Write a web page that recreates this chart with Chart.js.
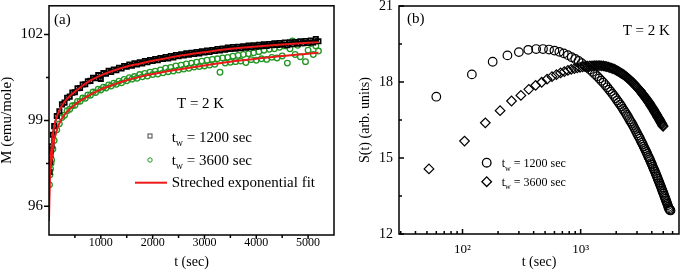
<!DOCTYPE html>
<html>
<head>
<meta charset="utf-8">
<script src="https://cdn.jsdelivr.net/npm/chart.js@4.4.1/dist/chart.umd.min.js"></script>
<style>
  body { margin: 0; background: #fff; }
  #wrap { position: relative; width: 685px; height: 276px; }
  canvas { position: absolute; top: 0; }
  #chartA { left: 0; }
  #chartB { left: 340px; }
</style>
</head>
<body>
<div id="wrap">
  <canvas id="chartA" width="340" height="276"></canvas>
  <canvas id="chartB" width="345" height="276"></canvas>
</div>
<script>
// ---- panel (a): M vs t ----
var timeA = [10, 20, 30, 40, 50, 75, 100,
  150, 200, 250, 300, 350, 400, 450, 500, 550, 600,
  650, 700, 750, 800, 850, 900, 950, 1000, 1050, 1100,
  1150, 1200, 1250, 1300, 1350, 1400, 1450, 1500, 1550, 1600,
  1650, 1700, 1750, 1800, 1850, 1900, 1950, 2000, 2050, 2100,
  2150, 2200, 2250, 2300, 2350, 2400, 2450, 2500, 2550, 2600,
  2650, 2700, 2750, 2800, 2850, 2900, 2950, 3000, 3050, 3100,
  3150, 3200, 3250, 3300, 3350, 3400, 3450, 3500, 3550, 3600,
  3650, 3700, 3750, 3800, 3850, 3900, 3950, 4000, 4050, 4100,
  4150, 4200, 4250, 4300, 4350, 4400, 4450, 4500, 4550, 4600,
  4650, 4700, 4750, 4800, 4850, 4900, 4950, 5000, 5050, 5100,
  5150, 5200];

var m1200 = [97.2, 97.55, 97.8, 97.95, 98.1, 98.5, 98.8,
  99.15, 99.32, 99.56, 99.62, 99.79, 99.83, 99.97, 99.98, 100.12, 100.13,
  100.25, 100.26, 100.37, 100.38, 100.49, 100.47, 100.58, 100.45, 100.65, 100.63,
  100.73, 100.69, 100.78, 100.75, 100.84, 100.81, 100.9, 100.87, 100.95, 100.91,
  100.99, 100.95, 101.03, 100.99, 101.07, 101.03, 101.11, 101.07, 101.14, 101.1,
  101.18, 101.14, 101.21, 101.16, 101.25, 101.2, 101.28, 101.24, 101.31, 101.27,
  101.34, 101.29, 101.36, 101.32, 101.39, 101.34, 101.41, 101.37, 101.44, 101.39,
  101.46, 101.42, 101.49, 101.44, 101.51, 101.47, 101.54, 101.49, 101.56, 101.5,
  101.57, 101.52, 101.59, 101.54, 101.61, 101.55, 101.62, 101.57, 101.64, 101.59,
  101.66, 101.6, 101.67, 101.62, 101.69, 101.63, 101.7, 101.64, 101.72, 101.62,
  101.73, 101.66, 101.74, 101.68, 101.76, 101.69, 101.77, 101.7, 101.79, 101.72,
  101.84, 101.76];

var m3600 = [96.75, 97.1, 97.3, 97.5, 97.62, 98.0, 98.3,
  98.67, 98.88, 99.1, 99.18, 99.34, 99.39, 99.51, 99.53, 99.66, 99.67,
  99.78, 99.77, 99.89, 99.88, 99.99, 99.97, 100.09, 100.06, 100.16, 100.13,
  100.24, 100.2, 100.3, 100.26, 100.37, 100.31, 100.43, 100.38, 100.49, 100.44,
  100.53, 100.47, 100.6, 100.52, 100.64, 100.55, 100.68, 100.6, 100.72, 100.62,
  100.76, 100.66, 100.82, 100.7, 100.85, 100.72, 100.9, 100.76, 100.93, 100.79,
  100.97, 100.82, 101.0, 100.86, 101.03, 100.88, 101.07, 100.9, 101.1, 100.93,
  101.13, 100.96, 101.15, 100.68, 101.18, 101.0, 101.2, 101.03, 101.24, 101.05,
  101.27, 101.07, 101.3, 101.02, 101.33, 101.12, 101.36, 101.1, 101.4, 101.15,
  101.45, 101.13, 101.48, 101.2, 101.5, 101.18, 101.55, 101.25, 101.6, 101.0,
  101.5, 101.77, 101.3, 101.62, 101.22, 101.7, 101.05, 101.45, 101.68, 101.3,
  101.6, 101.42];

// stretched exponential fits
var timeFit = [0, 2, 5, 10, 20, 35, 50, 75, 100, 150, 200, 300, 400, 500, 600, 800,
  1000, 1250, 1500, 1750, 2000, 2500, 3000, 3500, 4000, 4500, 5000, 5200];
var fit1200 = [95.5, 95.9, 96.4, 96.9, 97.4, 97.8, 98.05, 98.5, 98.8, 99.12, 99.35, 99.65, 99.85, 100.0, 100.15, 100.4,
  100.57, 100.74, 100.88, 100.98, 101.08, 101.25, 101.38, 101.5, 101.58, 101.65, 101.71, 101.73];
var fit3600 = [95.5, 95.8, 96.2, 96.6, 97.05, 97.35, 97.6, 98.0, 98.3, 98.65, 98.9, 99.2, 99.4, 99.55, 99.68, 99.9,
  100.08, 100.25, 100.4, 100.52, 100.62, 100.78, 100.92, 101.05, 101.15, 101.25, 101.33, 101.36];

var xTicksA = [500, 1000, 1500, 2000, 2500, 3000, 3500, 4000, 4500, 5000];
var yTicksA = [96, 97.5, 99, 100.5, 102];

// ---- panel (b): S(t) vs t (log) ----
var tCircle = [60, 120, 180, 240, 300, 360, 420, 480, 540, 600,
  660, 720, 780, 840, 900, 960, 1020, 1080, 1140, 1200,
  1260, 1320, 1380, 1440, 1500, 1560, 1620, 1680, 1740, 1800,
  1860, 1920, 1980, 2040, 2100, 2160, 2220, 2280, 2340, 2400,
  2460, 2520, 2580, 2640, 2700, 2760, 2820, 2880, 2940, 3000,
  3060, 3120, 3180, 3240, 3300, 3360, 3420, 3480, 3540, 3600,
  3660, 3720, 3780, 3840, 3900, 3960, 4020, 4080, 4140, 4200,
  4260, 4320, 4380, 4440, 4500, 4560, 4620, 4680, 4740, 4800,
  4860, 4920, 4980, 5040, 5100, 5160, 5220, 5280, 5340, 5400,
  5460, 5520, 5580, 5640, 5700, 5760];
var sCircle = [17.42, 18.3, 18.8, 19.05, 19.18, 19.27, 19.3, 19.3, 19.28, 19.24,
  19.19, 19.13, 19.06, 18.98, 18.91, 18.83, 18.74, 18.66, 18.57, 18.49,
  18.4, 18.31, 18.23, 18.14, 18.05, 17.97, 17.88, 17.79, 17.7, 17.62,
  17.53, 17.45, 17.36, 17.27, 17.19, 17.11, 17.03, 16.94, 16.86, 16.78,
  16.7, 16.62, 16.53, 16.45, 16.38, 16.3, 16.22, 16.14, 16.06, 15.98,
  15.9, 15.83, 15.76, 15.67, 15.6, 15.53, 15.45, 15.38, 15.31, 15.24,
  15.17, 15.08, 15.02, 14.95, 14.88, 14.8, 14.74, 14.66, 14.59, 14.53,
  14.46, 14.39, 14.32, 14.25, 14.18, 14.11, 14.04, 13.98, 13.91, 13.85,
  13.78, 13.71, 13.65, 13.59, 13.51, 13.45, 13.39, 13.32, 13.26, 13.2,
  13.14, 13.07, 13.02, 12.98, 12.95, 12.93];

var tDiamond = [52, 104, 156, 208, 260, 312, 364, 416, 468, 520,
  572, 624, 676, 728, 780, 832, 884, 936, 988, 1040,
  1092, 1144, 1196, 1248, 1300, 1352, 1404, 1456, 1508, 1560,
  1612, 1664, 1716, 1768, 1820, 1872, 1924, 1976, 2028, 2080,
  2132, 2184, 2236, 2288, 2340, 2392, 2444, 2496, 2548, 2600,
  2652, 2704, 2756, 2808, 2860, 2912, 2964, 3016, 3068, 3120,
  3172, 3224, 3276, 3328, 3380, 3432, 3484, 3536, 3588, 3640,
  3692, 3744, 3796, 3848, 3900, 3952, 4004, 4056, 4108, 4160,
  4212, 4264, 4316, 4368, 4420, 4472, 4524, 4576, 4628, 4680,
  4732, 4784, 4836, 4888, 4940, 4992];
var sDiamond = [14.57, 15.67, 16.39, 16.87, 17.25, 17.47, 17.71, 17.87, 17.99, 18.11,
  18.21, 18.29, 18.36, 18.41, 18.46, 18.5, 18.53, 18.56, 18.58, 18.6,
  18.61, 18.63, 18.64, 18.64, 18.65, 18.65, 18.65, 18.65, 18.64, 18.64,
  18.62, 18.61, 18.59, 18.57, 18.55, 18.53, 18.51, 18.48, 18.45, 18.42,
  18.39, 18.36, 18.33, 18.3, 18.27, 18.23, 18.2, 18.16, 18.13, 18.09,
  18.05, 18.01, 17.98, 17.94, 17.9, 17.86, 17.82, 17.78, 17.74, 17.7,
  17.66, 17.63, 17.58, 17.54, 17.5, 17.46, 17.42, 17.38, 17.34, 17.3,
  17.26, 17.22, 17.18, 17.14, 17.09, 17.05, 17.01, 16.97, 16.93, 16.89,
  16.85, 16.81, 16.77, 16.73, 16.69, 16.64, 16.6, 16.57, 16.53, 16.49,
  16.45, 16.4, 16.37, 16.33, 16.28, 16.25];

var xTicksB = [30, 40, 50, 60, 70, 80, 90, 100, 200, 300, 400, 500, 600, 700, 800, 900,
  1000, 2000, 3000, 4000, 5000, 6000];
var yTicksB = [12, 13.5, 15, 16.5, 18, 19.5, 21];

var waitTimes = ["1200", "3600"];

var RED = "rgb(235, 25, 25)";
var GREEN = "rgb(35, 150, 35)";
var FONT = '"Liberation Serif", "Times New Roman", serif';

Chart.defaults.font.family = FONT;
Chart.defaults.color = "#000";

function pts(xs, ys) {
    return xs.map(function (x, i) { return { x: x, y: ys[i] }; });
}

// "t" with a subscript "w", then the rest of the label
function drawTw(ctx, x, y, rest, size) {
    ctx.font = size + "px " + FONT;
    ctx.fillText("t", x, y);
    var w = ctx.measureText("t").width;
    ctx.font = Math.round(size * 0.65) + "px " + FONT;
    ctx.fillText("w", x + w, y + size * 0.3);
    w += ctx.measureText("w").width;
    ctx.font = size + "px " + FONT;
    ctx.fillText(rest, x + w, y);
}

// box around the plot + tick marks (outward or inward)
function drawBox(chart, inward, xMajor, xMinor, yMajor, yMinor) {
    var ctx = chart.ctx, a = chart.chartArea, sx = chart.scales.x, sy = chart.scales.y;
    var dir = inward ? -1 : 1;
    ctx.save();
    ctx.strokeStyle = "#000";
    ctx.lineWidth = 1.5;
    ctx.strokeRect(a.left, a.top, a.right - a.left, a.bottom - a.top);
    ctx.beginPath();
    sx.ticks.forEach(function (t) {
        var px = sx.getPixelForValue(t.value);
        var len = t.label ? xMajor : xMinor;
        ctx.moveTo(px, a.bottom);
        ctx.lineTo(px, a.bottom + dir * len);
    });
    sy.ticks.forEach(function (t) {
        var py = sy.getPixelForValue(t.value);
        var len = t.label ? yMajor : yMinor;
        ctx.moveTo(a.left, py);
        ctx.lineTo(a.left - dir * len, py);
    });
    ctx.stroke();
    ctx.restore();
}

function safeBox(chart, inward, a, b, c, d) {
    try {
        drawBox(chart, inward, a, b, c, d);
    } catch (e) {
        chart.ctx.fillText("ERR " + e.message, 60, 60);
    }
}

// no label-overflow padding, so the plot area lands where layout says
function noPad(s) {
    s.paddingTop = 0;
    s.paddingBottom = 0;
    s.paddingLeft = 0;
    s.paddingRight = 0;
}

var decorA = {
    id: "decorA",
    afterDraw: function (chart) {
        safeBox(chart, false, 4, 3, 5, 3);
        var ctx = chart.ctx;
        ctx.save();
        ctx.fillStyle = "#000";
        ctx.font = "15px " + FONT;
        ctx.fillText("(a)", 54, 24);
        ctx.fillText("T = 2 K", 177, 108);

        ctx.lineWidth = 1;
        ctx.strokeStyle = "#444";
        ctx.strokeRect(148, 134, 4, 4);
        ctx.strokeStyle = GREEN;
        ctx.beginPath();
        ctx.arc(150, 160, 2.2, 0, 2 * Math.PI);
        ctx.stroke();
        ctx.strokeStyle = RED;
        ctx.lineWidth = 2;
        ctx.beginPath();
        ctx.moveTo(135, 182.7);
        ctx.lineTo(167, 182.7);
        ctx.stroke();

        drawTw(ctx, 171.7, 141.5, " = " + waitTimes[0] + " sec", 15);
        drawTw(ctx, 171.7, 164.5, " = " + waitTimes[1] + " sec", 15);
        ctx.font = "15px " + FONT;
        ctx.fillText("Streched exponential fit", 171.7, 186.5);
        ctx.restore();
    }
};

var decorB = {
    id: "decorB",
    afterDraw: function (chart) {
        safeBox(chart, true, 5, 3, 5, 3);
        var ctx = chart.ctx;
        ctx.save();
        ctx.fillStyle = "#000";
        ctx.font = "15px " + FONT;
        ctx.fillText("(b)", 67, 22.5);
        ctx.fillText("T = 2 K", 282.7, 35);

        ctx.strokeStyle = "#000";
        ctx.lineWidth = 1.3;
        ctx.beginPath();
        ctx.arc(146.7, 162.7, 4.3, 0, 2 * Math.PI);
        ctx.stroke();
        ctx.beginPath();
        ctx.moveTo(141.9, 181.7);
        ctx.lineTo(146.7, 176.9);
        ctx.lineTo(151.5, 181.7);
        ctx.lineTo(146.7, 186.5);
        ctx.closePath();
        ctx.stroke();

        drawTw(ctx, 161.7, 167, " = " + waitTimes[0] + " sec", 12);
        drawTw(ctx, 161.7, 185.5, " = " + waitTimes[1] + " sec", 12);
        ctx.restore();
    }
};

// Panel (a)
new Chart(document.getElementById("chartA"), {
    type: "scatter",
    data: {
        datasets: [
            { label: "fit " + waitTimes[0], data: pts(timeFit, fit1200), showLine: true, pointRadius: 0,
              borderColor: RED, borderWidth: 2, cubicInterpolationMode: "monotone", order: 0 },
            { label: "fit " + waitTimes[1], data: pts(timeFit, fit3600), showLine: true, pointRadius: 0,
              borderColor: RED, borderWidth: 2, cubicInterpolationMode: "monotone", order: 0 },
            { label: "tw = " + waitTimes[0] + " sec", data: pts(timeA, m1200), showLine: true,
              pointStyle: "rect", pointRadius: 3, borderColor: "#000", borderWidth: 1.8,
              backgroundColor: "rgba(0,0,0,0)", order: 1 },
            { label: "tw = " + waitTimes[1] + " sec", data: pts(timeA, m3600), pointStyle: "circle", pointRadius: 2.8,
              borderColor: GREEN, borderWidth: 1.3, backgroundColor: "rgba(0,0,0,0)", order: 2 }
        ]
    },
    options: {
        responsive: false,
        animation: false,
        events: [],
        layout: { padding: { left: 0, top: 5, right: 6, bottom: 0 } },
        plugins: { legend: { display: false }, tooltip: { enabled: false } },
        scales: {
            x: {
                type: "linear", min: 0, max: 5500,
                grid: { display: false, drawTicks: false }, border: { display: false },
                afterBuildTicks: function (s) { s.ticks = xTicksA.map(function (v) { return { value: v }; }); },
                afterFit: function (s) { s.height = 41; noPad(s); },
                ticks: { autoSkip: false, maxRotation: 0, padding: 1, font: { size: 12 },
                         callback: function (v) { return v % 1000 === 0 ? String(v) : ""; } },
                title: { display: true, text: "t (sec)", font: { size: 14, lineHeight: 1 }, padding: { top: 0, bottom: 7 } }
            },
            y: {
                type: "linear", min: 95, max: 103,
                grid: { display: false, drawTicks: false }, border: { display: false },
                afterBuildTicks: function (s) { s.ticks = yTicksA.map(function (v) { return { value: v }; }); },
                afterFit: function (s) { s.width = 49; noPad(s); },
                ticks: { autoSkip: false, padding: 6, font: { size: 15 },
                         callback: function (v) { return v % 3 === 0 ? String(v) : ""; } },
                title: { display: true, text: "M (emu/mole)", font: { size: 15, lineHeight: 1 }, padding: { top: 0, bottom: 0 } }
            }
        }
    },
    plugins: [decorA]
});

// Panel (b)
new Chart(document.getElementById("chartB"), {
    type: "scatter",
    data: {
        datasets: [
            { label: "tw = " + waitTimes[0] + " sec", data: pts(tCircle, sCircle), pointStyle: "circle", pointRadius: 4.3,
              borderColor: "#000", borderWidth: 1.2, backgroundColor: "rgba(0,0,0,0)" },
            { label: "tw = " + waitTimes[1] + " sec", data: pts(tDiamond, sDiamond), pointStyle: "rectRot", pointRadius: 4.8,
              borderColor: "#000", borderWidth: 1.2, backgroundColor: "rgba(0,0,0,0)" }
        ]
    },
    options: {
        responsive: false,
        animation: false,
        events: [],
        layout: { padding: { left: 0, top: 6, right: 2, bottom: 0 } },
        plugins: { legend: { display: false }, tooltip: { enabled: false } },
        scales: {
            x: {
                type: "logarithmic", min: 29, max: 6800,
                grid: { display: false, drawTicks: false }, border: { display: false },
                afterBuildTicks: function (s) { s.ticks = xTicksB.map(function (v) { return { value: v }; }); },
                afterFit: function (s) { s.height = 42; noPad(s); },
                ticks: { autoSkip: false, maxRotation: 0, padding: 8, font: { size: 13 },
                         callback: function (v) { return v === 100 ? "10\u00B2" : (v === 1000 ? "10\u00B3" : ""); } },
                title: { display: true, text: "t (sec)", font: { size: 14, lineHeight: 1 }, padding: { top: 0, bottom: 7 } }
            },
            y: {
                type: "linear", min: 12, max: 21,
                grid: { display: false, drawTicks: false }, border: { display: false },
                afterBuildTicks: function (s) { s.ticks = yTicksB.map(function (v) { return { value: v }; }); },
                afterFit: function (s) { s.width = 59; noPad(s); },
                ticks: { autoSkip: false, padding: 6, font: { size: 14 },
                         callback: function (v) { return v % 3 === 0 ? String(v) : ""; } },
                title: { display: true, text: "S(t) (arb. units)", font: { size: 14, lineHeight: 1 }, padding: { top: 18, bottom: 0 } }
            }
        }
    },
    plugins: [decorB]
});
</script>
</body>
</html>
